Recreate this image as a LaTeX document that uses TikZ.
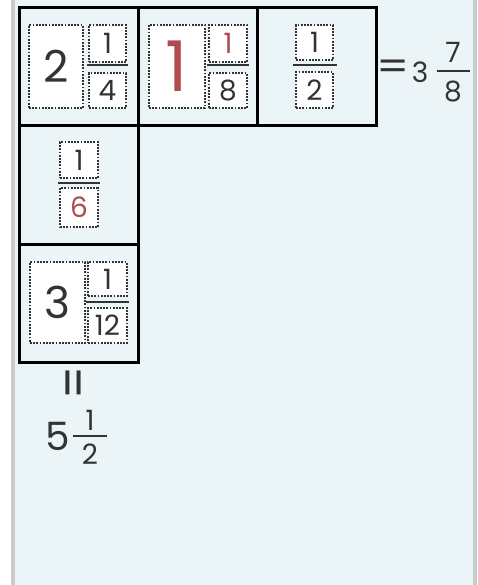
\documentclass[tikz,border=0pt]{standalone}
\usepackage{fontspec}
\setmainfont{Poppins}
\definecolor{bg}{HTML}{EBF4F6}
\definecolor{edge}{HTML}{C9CBCC}
\definecolor{ink}{HTML}{333333}
\definecolor{redd}{HTML}{B04A4F}
\tikzset{
  dbox/.style={draw=ink, line width=2pt, dash pattern=on 1.8pt off 1.4pt, fill=white, inner sep=0pt, rectangle},
  digit/.style={text=ink, inner sep=0pt, font=\fontsize{28}{30}\selectfont},
  bigdigit/.style={text=ink, inner sep=0pt, font=\fontsize{44}{46}\selectfont},
  fracline/.style={draw=ink, line width=2pt},
  gridline/.style={draw=black, line width=3pt},
}
\begin{document}
\begin{tikzpicture}[x=1pt,y=-1pt]
\useasboundingbox (0,0) rectangle (477,585);
\fill[white] (0,0) rectangle (477,585);
\fill[bg] (15,0) rectangle (473,585);
\fill[edge] (11,0) rectangle (15,585);
\fill[edge] (473,0) rectangle (477,585);
% grid
\draw[gridline] (19,8) rectangle (376,126);
\draw[gridline] (138,8) -- (138,126);
\draw[gridline] (257,8) -- (257,126);
\draw[gridline] (19,126) rectangle (138,244);
\draw[gridline] (19,244) rectangle (138,362);
% cell 1: 2 1/4
\node[dbox, minimum width=54pt, minimum height=83pt] (b1) at (56,66.5) {};
\node[bigdigit] (t1) at (b1.center) {2};
\node[dbox, minimum width=37pt, minimum height=37pt] (n1) at (107.5,43.5) {};
\node[digit] at (n1.center) {1};
\node[dbox, minimum width=37pt, minimum height=35pt] (d1) at (107.5,90.5) {};
\node[digit] at (d1.center) {4};
\coordinate (l1a) at (87,65); \coordinate (l1b) at (128,65);
\draw[fracline] (l1a) -- (l1b);
% cell 2: 1 1/8
\node[dbox, minimum width=56pt, minimum height=83pt] (b2) at (177,66.5) {};
\node[bigdigit, text=redd, font=\fontsize{70}{72}\selectfont] (t2) at (b2.center) {1};
\node[dbox, minimum width=38pt, minimum height=37pt] (n2) at (228,43.5) {};
\node[digit, text=redd] at (n2.center) {1};
\node[dbox, minimum width=38pt, minimum height=35pt] (d2) at (228,90.5) {};
\node[digit] at (d2.center) {8};
\coordinate (l2a) at (207,65); \coordinate (l2b) at (249,65);
\draw[fracline] (l2a) -- (l2b);
% cell 3: 1/2
\node[dbox, minimum width=37pt, minimum height=35pt] (n3) at (314.5,42.5) {};
\node[digit] at (n3.center) {1};
\node[dbox, minimum width=37pt, minimum height=36pt] (d3) at (314.5,90) {};
\node[digit] at (d3.center) {2};
\coordinate (l3a) at (293,65); \coordinate (l3b) at (337,65);
\draw[fracline] (l3a) -- (l3b);
% = 3 7/8
\node[digit, font=\fontsize{40}{42}\selectfont] (eq) at (393,70) {\scalebox{1.15}[1]{=}};
\node[digit] (r3) at (420,72) {3};
\node[digit] (r7) at (453,52) {7};
\node[digit] (r8) at (453,92) {8};
\coordinate (l4a) at (437,71); \coordinate (l4b) at (470,71);
\draw[fracline] (l4a) -- (l4b);
% row 2: 1/6
\node[dbox, minimum width=38pt, minimum height=36pt] (n5) at (79,160) {};
\node[digit] at (n5.center) {1};
\node[dbox, minimum width=38pt, minimum height=39pt] (d5) at (79,207.5) {};
\node[digit, text=redd] at (d5.center) {6};
\coordinate (l5a) at (58,183); \coordinate (l5b) at (100,183);
\draw[fracline] (l5a) -- (l5b);
% row 3: 3 1/12
\node[dbox, minimum width=55pt, minimum height=81pt] (b6) at (57.5,302.5) {};
\node[bigdigit] at (b6.center) {3};
\node[dbox, minimum width=39pt, minimum height=34pt] (n6) at (107.5,279) {};
\node[digit] at (n6.center) {1};
\node[dbox, minimum width=39pt, minimum height=35pt] (d6) at (107.5,325.5) {};
\node[digit] at (d6.center) {12};
\coordinate (l6a) at (86,302); \coordinate (l6b) at (129,302);
\draw[fracline] (l6a) -- (l6b);
% vertical equals and 5 1/2
\node[digit, font=\fontsize{40}{42}\selectfont, rotate=90] (veq) at (79.5,383) {\scalebox{1.15}[1.3]{=}};
\node[digit, font=\fontsize{39}{41}\selectfont] (r5) at (58,436) {5};
\node[digit] (rr1) at (90,420) {1};
\node[digit] (rr2) at (90,454) {2};
\coordinate (l7a) at (73,436); \coordinate (l7b) at (107,436);
\draw[fracline] (l7a) -- (l7b);
\end{tikzpicture}
\end{document}
